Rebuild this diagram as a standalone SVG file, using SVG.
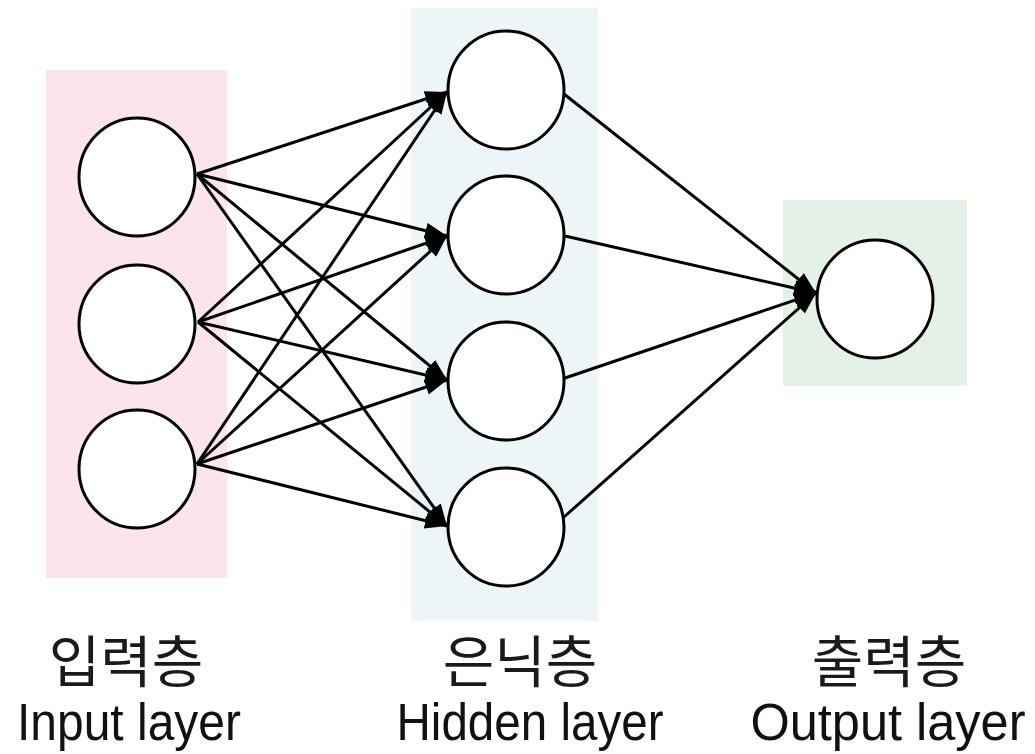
<svg xmlns="http://www.w3.org/2000/svg" width="1035" height="754" viewBox="0 0 1035 754">
<style>
.node{fill:#ffffff;stroke:#000000;stroke-width:3}
.edge{stroke:#000000;stroke-width:3;fill:none;marker-end:url(#arrow)}
.ko{font-family:"Noto Sans CJK KR","Noto Sans",sans-serif;font-size:56px;fill:#1a1a1a;text-anchor:middle}
.en{font-family:"Liberation Sans",Arial,sans-serif;font-size:51px;fill:#111111;text-anchor:middle}
</style>
<defs>
<marker id="arrow" markerUnits="userSpaceOnUse" markerWidth="24" markerHeight="18" refX="22" refY="8" orient="auto">
<path d="M0,0 L22,8 L0,16 z" fill="#000000"/>
</marker>
</defs>
<rect width="1035" height="754" fill="#ffffff"/>
<g id="bands">
<rect x="46" y="70" width="181" height="508" fill="#fbe4eb"/>
<rect x="411" y="8" width="187" height="613" fill="#eef5f8"/>
<rect x="783" y="200" width="184" height="186" fill="#e4f1e7"/>
</g>
<g id="connectors">
<line class="edge" x1="197" y1="174" x2="447" y2="92"/>
<line class="edge" x1="197" y1="174" x2="447" y2="236"/>
<line class="edge" x1="197" y1="174" x2="447" y2="380"/>
<line class="edge" x1="197" y1="174" x2="447" y2="526"/>
<line class="edge" x1="198" y1="322" x2="447" y2="92"/>
<line class="edge" x1="198" y1="322" x2="447" y2="236"/>
<line class="edge" x1="198" y1="322" x2="447" y2="380"/>
<line class="edge" x1="198" y1="322" x2="447" y2="526"/>
<line class="edge" x1="197" y1="464" x2="447" y2="92"/>
<line class="edge" x1="197" y1="464" x2="447" y2="236"/>
<line class="edge" x1="197" y1="464" x2="447" y2="380"/>
<line class="edge" x1="197" y1="464" x2="447" y2="526"/>
<line class="edge" x1="564" y1="94" x2="816" y2="293"/>
<line class="edge" x1="565" y1="236" x2="816" y2="293"/>
<line class="edge" x1="565" y1="378" x2="816" y2="293"/>
<line class="edge" x1="564" y1="517" x2="816" y2="293"/>
</g>
<g id="in1"><ellipse class="node" cx="137" cy="177" rx="58" ry="59"/></g>
<g id="in2"><ellipse class="node" cx="137" cy="324" rx="58" ry="59"/></g>
<g id="in3"><ellipse class="node" cx="137" cy="469" rx="58" ry="59"/></g>
<g id="h1"><ellipse class="node" cx="506" cy="90" rx="58" ry="59"/></g>
<g id="h2"><ellipse class="node" cx="506" cy="235" rx="58" ry="59"/></g>
<g id="h3"><ellipse class="node" cx="506" cy="381" rx="58" ry="59"/></g>
<g id="h4"><ellipse class="node" cx="506" cy="527" rx="58" ry="59"/></g>
<g id="out1"><ellipse class="node" cx="875" cy="299" rx="58" ry="59"/></g>
<g id="labels">
<text class="ko" x="126" y="682">입력층</text>
<text class="ko" x="520" y="682">은닉층</text>
<text class="ko" x="889" y="682">출력층</text>
<text class="en" x="129" y="740" textLength="224" lengthAdjust="spacingAndGlyphs">Input layer</text>
<text class="en" x="530" y="740" textLength="267" lengthAdjust="spacingAndGlyphs">Hidden layer</text>
<text class="en" x="888" y="740" textLength="275" lengthAdjust="spacingAndGlyphs">Output layer</text>
</g>
</svg>
